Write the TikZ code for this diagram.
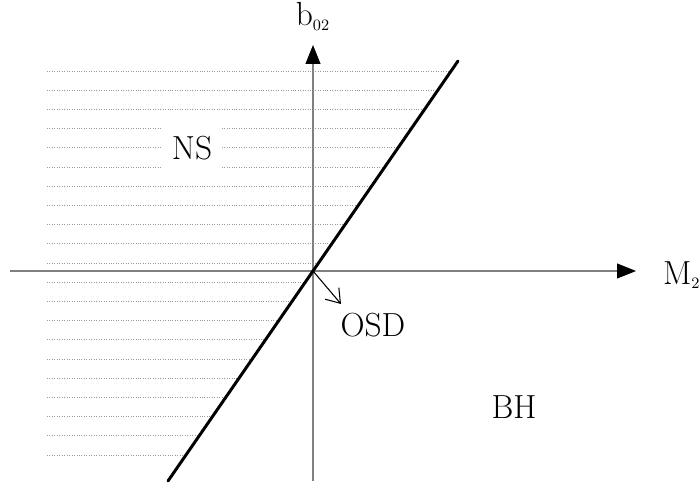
\documentclass[tikz,border=0pt]{standalone}
\usepackage{amsmath}
\usepackage{tikz}
\usetikzlibrary{arrows.meta, positioning}
\tikzstyle{axis} = [draw=gray, line width=0.6pt, -{Triangle[length=0.38cm, width=0.3cm, color=black]}]
\tikzstyle{boundary} = [line width=1.7pt, line cap=round]
\tikzstyle{hatch} = [gray!80, densely dotted, line width=0.4pt]
\tikzstyle{label} = [font=\fontsize{19}{23}\selectfont, inner sep=1pt]
\tikzstyle{osdarrow} = [line width=0.6pt, -{Straight Barb[length=0.26cm, width=0.36cm]}]

\begin{document}
\begin{tikzpicture}
\useasboundingbox (-6.26,-4.28) rectangle (7.74,5.42);

% Hatched region (NS side)
\foreach \k in {0,...,20} {
  \pgfmathsetmacro{\y}{4.0-0.384*\k}
  \draw [hatch] (-5.32,\y) -- ({\y/1.448-0.03},\y);
}

% Axes
\coordinate (origin) at (0,0);
\coordinate (xmin) at (-6.06,0);
\coordinate (xmax) at (6.46,0);
\coordinate (ymin) at (0,-4.2);
\coordinate (ymax) at (0,4.52);
\draw [axis] (xmin) -- (xmax);
\draw [axis] (ymin) -- (ymax);
\node (m2) [label, right=0.5cm of xmax, yshift=-0.08cm] {M$_{\scriptscriptstyle 2}$};
\node (b02) [label, above=0.25cm of ymax] {b$_{\scriptscriptstyle 02}$};

% Boundary line
\coordinate (low) at (-2.9,-4.2);
\coordinate (high) at (2.9,4.2);
\draw [boundary] (low) -- (high);

% Regions
\node (ns) [label, fill=white, inner sep=0.2cm] at (-2.42,2.464) {NS};
\node (bh) [label] at (4.02,-2.72) {BH};
\coordinate (osdtip) at (0.56,-0.66);
\draw [osdarrow] (origin) -- (osdtip);
\node (osd) [label] at (1.2,-1.08) {OSD};

\end{tikzpicture}
\end{document}
